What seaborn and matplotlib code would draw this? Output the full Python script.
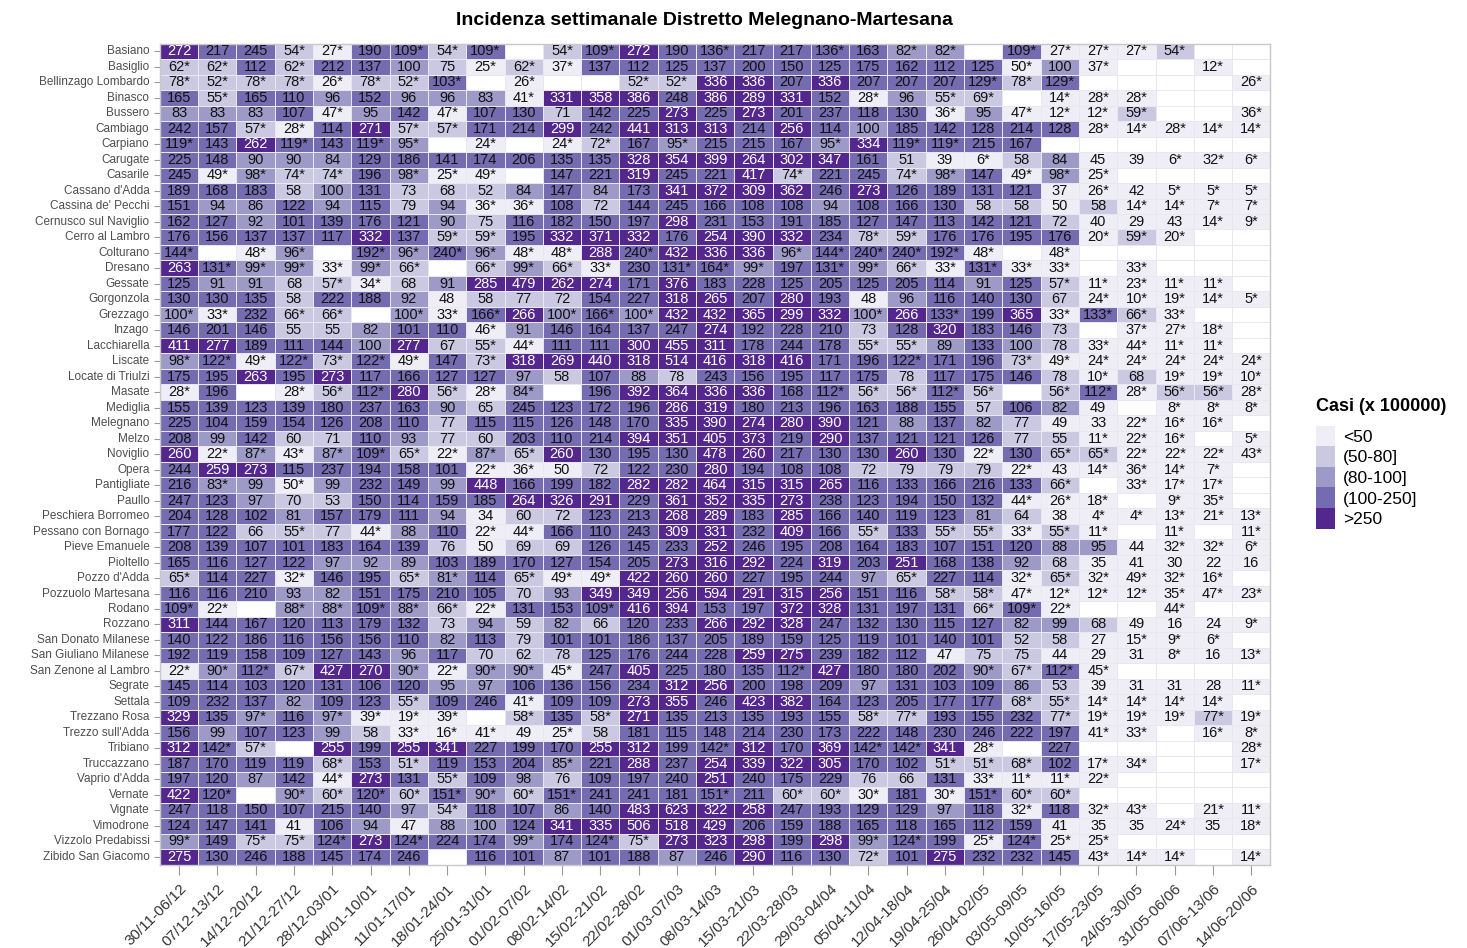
import numpy as np
import pandas as pd
import matplotlib
matplotlib.use("Agg")
import matplotlib.pyplot as plt
import seaborn as sns
from matplotlib.colors import ListedColormap
from matplotlib.patches import Patch

# weeks (columns)
weeks = ["30/11-06/12", "07/12-13/12", "14/12-20/12", "21/12-27/12", "28/12-03/01",
         "04/01-10/01", "11/01-17/01", "18/01-24/01", "25/01-31/01", "01/02-07/02",
         "08/02-14/02", "15/02-21/02", "22/02-28/02", "01/03-07/03", "08/03-14/03",
         "15/03-21/03", "22/03-28/03", "29/03-04/04", "05/04-11/04", "12/04-18/04",
         "19/04-25/04", "26/04-02/05", "03/05-09/05", "10/05-16/05", "17/05-23/05",
         "24/05-30/05", "31/05-06/06", "07/06-13/06", "14/06-20/06"]

comuni = ["Basiano", "Basiglio", "Bellinzago Lombardo", "Binasco", "Bussero", "Cambiago",
          "Carpiano", "Carugate", "Casarile", "Cassano d'Adda", "Cassina de' Pecchi",
          "Cernusco sul Naviglio", "Cerro al Lambro", "Colturano", "Dresano", "Gessate",
          "Gorgonzola", "Grezzago", "Inzago", "Lacchiarella", "Liscate", "Locate di Triulzi",
          "Masate", "Mediglia", "Melegnano", "Melzo", "Noviglio", "Opera", "Pantigliate",
          "Paullo", "Peschiera Borromeo", "Pessano con Bornago", "Pieve Emanuele",
          "Pioltello", "Pozzo d'Adda", "Pozzuolo Martesana", "Rodano", "Rozzano",
          "San Donato Milanese", "San Giuliano Milanese", "San Zenone al Lambro", "Segrate",
          "Settala", "Trezzano Rosa", "Trezzo sull'Adda", "Tribiano", "Truccazzano",
          "Vaprio d'Adda", "Vernate", "Vignate", "Vimodrone", "Vizzolo Predabissi",
          "Zibido San Giacomo"]

# weekly incidence per comune, "-" = no data, "*" as printed in the cell
basiano = "272 217 245 54* 27* 190 109* 54* 109* - 54* 109* 272 190 136* 217 217 136* 163 82* 82* - 109* 27* 27* 27* 54* - -"
basiglio = "62* 62* 112 62* 212 137 100 75 25* 62* 37* 137 112 125 137 200 150 125 175 162 112 125 50* 100 37* - - 12* -"
bellinzago = "78* 52* 78* 78* 26* 78* 52* 103* - 26* - - 52* 52* 336 336 207 336 207 207 207 129* 78* 129* - - - - 26*"
binasco = "165 55* 165 110 96 152 96 96 83 41* 331 358 386 248 386 289 331 152 28* 96 55* 69* - 14* 28* 28* - - -"
bussero = "83 83 83 107 47* 95 142 47* 107 130 71 142 225 273 225 273 201 237 118 130 36* 95 47* 12* 12* 59* - - 36*"
cambiago = "242 157 57* 28* 114 271 57* 57* 171 214 299 242 441 313 313 214 256 114 100 185 142 128 214 128 28* 14* 28* 14* 14*"
carpiano = "119* 143 262 119* 143 119* 95* - 24* - 24* 72* 167 95* 215 215 167 95* 334 119* 119* 215 167 - - - - - -"
carugate = "225 148 90 90 84 129 186 141 174 206 135 135 328 354 399 264 302 347 161 51 39 6* 58 84 45 39 6* 32* 6*"
casarile = "245 49* 98* 74* 74* 196 98* 25* 49* - 147 221 319 245 221 417 74* 221 245 74* 98* 147 49* 98* 25* - - - -"
cassano = "189 168 183 58 100 131 73 68 52 84 147 84 173 341 372 309 362 246 273 126 189 131 121 37 26* 42 5* 5* 5*"
cassina = "151 94 86 122 94 115 79 94 36* 36* 108 72 144 245 166 108 108 94 108 166 130 58 58 50 58 14* 14* 7* 7*"
cernusco = "162 127 92 101 139 176 121 90 75 116 182 150 197 298 231 153 191 185 127 147 113 142 121 72 40 29 43 14* 9*"
cerro = "176 156 137 137 117 332 137 59* 59* 195 332 371 332 176 254 390 332 234 78* 59* 176 176 195 176 20* 59* 20* - -"
colturano = "144* - 48* 96* - 192* 96* 240* 96* 48* 48* 288 240* 432 336 336 96* 144* 240* 240* 192* 48* - 48* - - - - -"
dresano = "263 131* 99* 99* 33* 99* 66* - 66* 99* 66* 33* 230 131* 164* 99* 197 131* 99* 66* 33* 131* 33* 33* - 33* - - -"
gessate = "125 91 91 68 57* 34* 68 91 285 479 262 274 171 376 183 228 125 205 125 205 114 91 125 57* 11* 23* 11* 11* -"
gorgonzola = "130 130 135 58 222 188 92 48 58 77 72 154 227 318 265 207 280 193 48 96 116 140 130 67 24* 10* 19* 14* 5*"
grezzago = "100* 33* 232 66* 66* - 100* 33* 166* 266 100* 166* 100* 432 432 365 299 332 100* 266 133* 199 365 33* 133* 66* 33* - -"
inzago = "146 201 146 55 55 82 101 110 46* 91 146 164 137 247 274 192 228 210 73 128 320 183 146 73 - 37* 27* 18* -"
lacchiarella = "411 277 189 111 144 100 277 67 55* 44* 111 111 300 455 311 178 244 178 55* 55* 89 133 100 78 33* 44* 11* 11* -"
liscate = "98* 122* 49* 122* 73* 122* 49* 147 73* 318 269 440 318 514 416 318 416 171 196 122* 171 196 73* 49* 24* 24* 24* 24* 24*"
locate = "175 195 263 195 273 117 166 127 127 97 58 107 88 78 243 156 195 117 175 78 117 175 146 78 10* 68 19* 19* 10*"
masate = "28* 196 - 28* 56* 112* 280 56* 28* 84* - 196 392 364 336 336 168 112* 56* 56* 112* 56* - 56* 112* 28* 56* 56* 28*"
mediglia = "155 139 123 139 180 237 163 90 65 245 123 172 196 286 319 180 213 196 163 188 155 57 106 82 49 - 8* 8* 8*"
melegnano = "225 104 159 154 126 208 110 77 115 115 126 148 170 335 390 274 280 390 121 88 137 82 77 49 33 22* 16* 16* -"
melzo = "208 99 142 60 71 110 93 77 60 203 110 214 394 351 405 373 219 290 137 121 121 126 77 55 11* 22* 16* - 5*"
noviglio = "260 22* 87* 43* 87* 109* 65* 22* 87* 65* 260 130 195 130 478 260 217 130 130 260 130 22* 130 65* 65* 22* 22* 22* 43*"
opera = "244 259 273 115 237 194 158 101 22* 36* 50 72 122 230 280 194 108 108 72 79 79 79 22* 43 14* 36* 14* 7* -"
pantigliate = "216 83* 99 50* 99 232 149 99 448 166 199 182 282 282 464 315 315 265 116 133 166 216 133 66* - 33* 17* 17* -"
paullo = "247 123 97 70 53 150 114 159 185 264 326 291 229 361 352 335 273 238 123 194 150 132 44* 26* 18* - 9* 35* -"
peschiera = "204 128 102 81 157 179 111 94 34 60 72 123 213 268 289 183 285 166 140 119 123 81 64 38 4* 4* 13* 21* 13*"
pessano = "177 122 66 55* 77 44* 88 110 22* 44* 166 110 243 309 331 232 409 166 55* 133 55* 55* 33* 55* 11* - 11* - 11*"
pieve = "208 139 107 101 183 164 139 76 50 69 69 126 145 233 252 246 195 208 164 183 107 151 120 88 95 44 32* 32* 6*"
pioltello = "165 116 127 122 97 92 89 103 189 170 127 154 205 273 316 292 224 319 203 251 168 138 92 68 35 41 30 22 16"
pozzo = "65* 114 227 32* 146 195 65* 81* 114 65* 49* 49* 422 260 260 227 195 244 97 65* 227 114 32* 65* 32* 49* 32* 16* -"
pozzuolo = "116 116 210 93 82 151 175 210 105 70 93 349 349 256 594 291 315 256 151 116 58* 58* 47* 12* 12* 12* 35* 47* 23*"
rodano = "109* 22* - 88* 88* 109* 88* 66* 22* 131 153 109* 416 394 153 197 372 328 131 197 131 66* 109* 22* - - 44* - -"
rozzano = "311 144 167 120 113 179 132 73 94 59 82 66 120 233 266 292 328 247 132 130 115 127 82 99 68 49 16 24 9*"
san_donato = "140 122 186 116 156 156 110 82 113 79 101 101 186 137 205 189 159 125 119 101 140 101 52 58 27 15* 9* 6* -"
san_giuliano = "192 119 158 109 127 143 96 117 70 62 78 125 176 244 228 259 275 239 182 112 47 75 75 44 29 31 8* 16 13*"
san_zenone = "22* 90* 112* 67* 427 270 90* 22* 90* 90* 45* 247 405 225 180 135 112* 427 180 180 202 90* 67* 112* 45* - - - -"
segrate = "145 114 103 120 131 106 120 95 97 106 136 156 234 312 256 200 198 209 97 131 103 109 86 53 39 31 31 28 11*"
settala = "109 232 137 82 109 123 55* 109 246 41* 109 109 273 355 246 423 382 164 123 205 177 177 68* 55* 14* 14* 14* 14* -"
trezzano_rosa = "329 135 97* 116 97* 39* 19* 39* - 58* 135 58* 271 135 213 135 193 155 58* 77* 193 155 232 77* 19* 19* 19* 77* 19*"
trezzo = "156 99 107 123 99 58 33* 16* 41* 49 25* 58 181 115 148 214 230 173 222 148 230 246 222 197 41* 33* - 16* 8*"
tribiano = "312 142* 57* - 255 199 255 341 227 199 170 255 312 199 142* 312 170 369 142* 142* 341 28* - 227 - - - - 28*"
truccazzano = "187 170 119 119 68* 153 51* 119 153 204 85* 221 288 237 254 339 322 305 170 102 51* 51* 68* 102 17* 34* - - 17*"
vaprio = "197 120 87 142 44* 273 131 55* 109 98 76 109 197 240 251 240 175 229 76 66 131 33* 11* 11* 22* - - - -"
vernate = "422 120* - 90* 60* 120* 60* 151* 90* 60* 151* 241 241 181 151* 211 60* 60* 30* 181 30* 151* 60* 60* - - - - -"
vignate = "247 118 150 107 215 140 97 54* 118 107 86 140 483 623 322 258 247 193 129 129 97 118 32* 118 32* 43* - 21* 11*"
vimodrone = "124 147 141 41 106 94 47 88 100 124 341 335 506 518 429 206 159 188 165 118 165 112 159 41 35 35 24* 35 18*"
vizzolo = "99* 149 75* 75* 124* 273 124* 224 174 99* 174 124* 75* 273 323 298 199 298 99* 124* 199 25* 124* 25* 25* - - - -"
zibido = "275 130 246 188 145 174 246 - 116 101 87 101 188 87 246 290 116 130 72* 101 275 232 232 145 43* 14* 14* - 14*"

rows = [basiano, basiglio, bellinzago, binasco, bussero, cambiago, carpiano, carugate,
        casarile, cassano, cassina, cernusco, cerro, colturano, dresano, gessate, gorgonzola,
        grezzago, inzago, lacchiarella, liscate, locate, masate, mediglia, melegnano, melzo,
        noviglio, opera, pantigliate, paullo, peschiera, pessano, pieve, pioltello, pozzo,
        pozzuolo, rodano, rozzano, san_donato, san_giuliano, san_zenone, segrate, settala,
        trezzano_rosa, trezzo, tribiano, truccazzano, vaprio, vernate, vignate, vimodrone,
        vizzolo, zibido]

classi = ["<50", "(50-80]", "(80-100]", "(100-250]", ">250"]
colori = ["#efedf5", "#cbc9e2", "#9e9ac8", "#756bb1", "#54278f"]

# build label / value tables
labels = [[("" if c == "-" else c) for c in r.split()] for r in rows]
for n, l in zip(comuni, labels):
    assert len(l) == len(weeks), n
valori = pd.DataFrame([[np.nan if c == "" else float(c.rstrip("*")) for c in l] for l in labels],
                      index=comuni, columns=weeks)
lab = pd.DataFrame(labels, index=comuni, columns=weeks)

# class index 0..4
cls = pd.DataFrame(np.digitize(valori.values, [50, 80, 100, 250], right=True).astype(float),
                   index=comuni, columns=weeks)
cls[valori.isna()] = np.nan

plt.rcParams["font.family"] = ["Liberation Sans", "DejaVu Sans"]

fig = plt.figure(figsize=(14.67, 9.48), dpi=100)
ax = fig.add_axes([0.109, 0.088, 0.757, 0.866])
ax.set_facecolor("white")

sns.heatmap(cls, ax=ax, cmap=ListedColormap(colori), vmin=-0.5, vmax=4.5, cbar=False,
            annot=lab.values, fmt="", annot_kws={"fontsize": 10.5},
            linewidths=0.6, linecolor="#e9e8f0")

# text colour: white on darkest class only
for t in ax.texts:
    s = t.get_text().rstrip("*")
    t.set_color("white" if s and float(s) > 250 else "#111111")

ax.set_xlabel("")
ax.set_ylabel("")
ax.set_yticklabels(comuni, fontsize=8.5, color="#4d4d4d", rotation=0)
ax.set_xticklabels(weeks, fontsize=11, color="#333333", rotation=45,
                   ha="right", rotation_mode="anchor")
ax.tick_params(axis="both", length=4, color="#999999", width=0.8)
ax.tick_params(axis="x", length=7, pad=5)
for sp in ax.spines.values():
    sp.set_visible(True)
    sp.set_color("#c8c8c8")
    sp.set_linewidth(1)

fig.suptitle("Incidenza settimanale Distretto Melegnano-Martesana", x=0.48, y=0.987,
             fontsize=14, fontweight="bold")

handles = [Patch(facecolor=c, edgecolor="none") for c in colori]
leg = fig.legend(handles, classi, title="Casi (x 100000)", loc="upper left",
                 bbox_to_anchor=(0.892, 0.588), frameon=False, fontsize=12.5,
                 handlelength=1.1, handleheight=1.45, labelspacing=0.0,
                 handletextpad=0.5, borderaxespad=0)
leg.get_title().set_fontweight("bold")
leg.get_title().set_fontsize(13)
leg._legend_box.align = "left"
leg._legend_box.sep = 8

fig.savefig("out.png", dpi=100)
